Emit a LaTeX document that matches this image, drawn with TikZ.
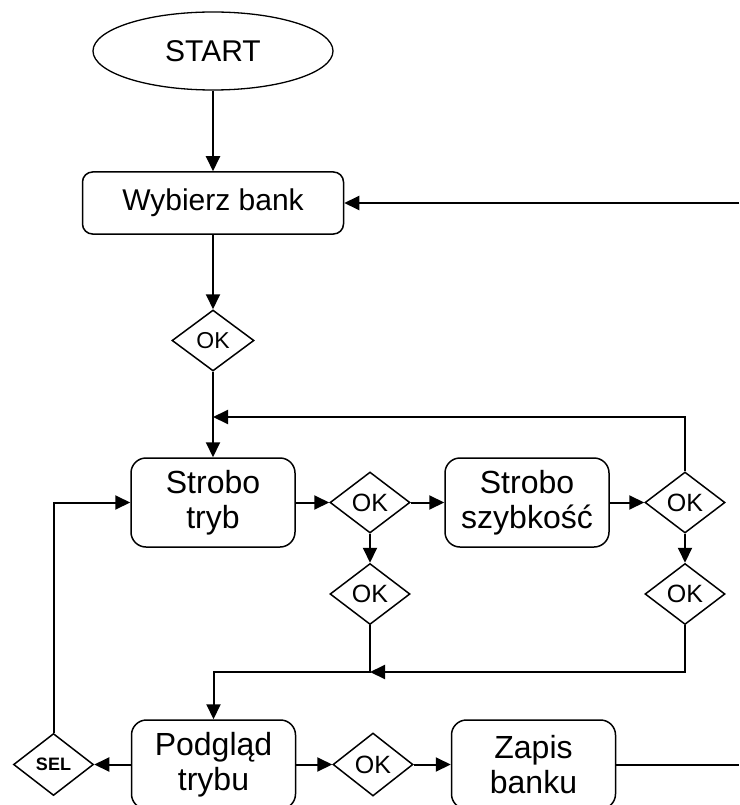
\documentclass[tikz,border=0pt]{standalone}
\usepackage{fontspec}
\setmainfont{Liberation Sans}
\usetikzlibrary{shapes.geometric,arrows.meta}

\begin{document}
\begin{tikzpicture}[x=1pt,y=-1pt,
  box/.style={draw, rounded corners=15pt, line width=1.5pt, inner sep=0pt,
    align=center, minimum width=164pt, minimum height=89pt,
    font=\fontsize{32}{35}\selectfont},
  dec/.style={draw, diamond, line width=1.5pt, inner sep=0pt,
    minimum width=80pt, minimum height=61pt, font=\fontsize{25}{25}\selectfont},
  flow/.style={line width=2pt, -{Triangle[length=15pt,width=14pt]}},
  plainline/.style={line width=2pt}]

\useasboundingbox (0,0) rectangle (739,805);
\clip (0,0) rectangle (739,805);

% nodes
\node[draw, ellipse, line width=1.3pt, minimum width=240pt, minimum height=78pt,
  inner sep=0pt, font=\fontsize{30}{36}\selectfont] (start) at (213,51) {START};
\node[box, minimum width=261pt, minimum height=62pt, rounded corners=10pt,
  font=\fontsize{30}{36}\selectfont] (bank) at (213,203) {Wybierz bank};
\node[dec, minimum width=82pt, font=\fontsize{23}{23}\selectfont] (ok1) at (213,340.5) {OK};

\node[box] (tryb) at (213,502.5) {Strobo\\tryb};
\node[dec] (ok2) at (370,502.5) {OK};
\node[box] (speed) at (527,502.5) {Strobo\\szybkość};
\node[dec] (ok3) at (685,502.5) {OK};
\node[dec] (ok4) at (685,594) {OK};
\node[dec] (ok5) at (370,594) {OK};

\node[box] (view) at (213.5,764.5) {Podgląd\\trybu};
\node[dec, minimum height=63pt] (ok6) at (373,764.5) {OK};
\node[box] (save) at (533.5,764.5) {Zapis\\banku};
\node[dec, minimum height=62pt, font=\bfseries\fontsize{18}{18}\selectfont]
  (sel) at (53.5,764.5) {SEL};

% free ends and junctions
\coordinate (rin) at (739,203);
\coordinate (rout) at (739,764.5);
\coordinate (join1) at (213,417);
\coordinate (join2) at (370,672);

% connectors
\draw[flow] (start) -- (bank);
\draw[flow] (rin) -- (bank.east);
\draw[flow] (bank) -- (ok1);
\draw[flow] (ok1) -- (tryb);
\draw[flow] (ok3.north) |- (join1);
\draw[flow] (tryb.east) -- (ok2.west);
\draw[flow] (ok2.east) -- (speed.west);
\draw[flow] (speed.east) -- (ok3.west);
\draw[flow] (ok3) -- (ok4);
\draw[flow] (ok2) -- (ok5);
\draw[flow] (ok4.south) |- (join2);
\draw[flow] (ok5.south) -- (join2) -| (view.north);
\draw[flow] (view.east) -- (ok6.west);
\draw[flow] (ok6.east) -- (save.west);
\draw[plainline] (save.east) -- (rout);
\draw[flow] (view.west) -- (sel.east);
\draw[flow] (sel.north) |- (tryb.west);
\end{tikzpicture}
\end{document}
